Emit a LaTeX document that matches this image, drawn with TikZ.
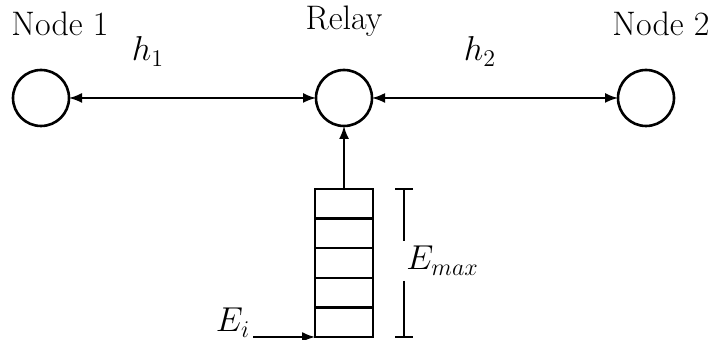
\documentclass[tikz,border=0pt]{standalone}
\usetikzlibrary{arrows.meta}
\begin{document}
\begin{tikzpicture}[x=0.5pt,y=-0.5pt,
  every node/.style={font=\fontsize{17}{20}\selectfont},
  station/.style={draw,circle,line width=1.3pt,minimum size=28pt,inner sep=0pt,outer sep=0pt},
  cell/.style={rectangle,minimum width=29pt,minimum height=14.8pt,inner sep=0pt,outer sep=0pt},
  stack/.style={draw,line width=1.2pt},
  link/.style={line width=0.9pt,{Latex[length=6.5pt,width=5pt]}-{Latex[length=6.5pt,width=5pt]}},
  feed/.style={line width=0.9pt,-{Latex[length=6.5pt,width=5pt]}},
  bar/.style={line width=1.2pt}]
\useasboundingbox (0,0) rectangle (716,340);
\node[station] (n1) at (41,98) {};
\node[station] (r) at (344,98) {};
\node[station] (n2) at (646,98) {};
\node[anchor=base] (l1) at (60,36) {Node 1};
\node[anchor=base] (lr) at (344,30) {Relay};
\node[anchor=base] (l2) at (661,36) {Node 2};
\draw[link] (n1) -- (r);
\draw[link] (r) -- (n2);
\node[anchor=base] (h1) at (148,61) {$h_1$};
\node[anchor=base] (h2) at (480,61) {$h_2$};
\node[cell] (c1) at (344,203.8) {};
\node[cell] (c2) at (344,233.4) {};
\node[cell] (c3) at (344,263) {};
\node[cell] (c4) at (344,292.6) {};
\node[cell] (c5) at (344,322.2) {};
\draw[stack] (c1.north west) rectangle (c5.south east);
\draw[stack] (c1.south west) -- (c1.south east);
\draw[stack] (c2.south west) -- (c2.south east);
\draw[stack] (c3.south west) -- (c3.south east);
\draw[stack] (c4.south west) -- (c4.south east);
\draw[feed] (c1.north) -- (r.south);
\coordinate (ein) at ([xshift=-31pt]c5.south west);
\draw[feed] (ein) -- (c5.south west);
\node[anchor=base] (ei) at (233,332) {$E_i$};
\coordinate (bt) at (404,189);
\coordinate (bb) at (404,337);
\coordinate (bgt) at (404,241);
\coordinate (bgb) at (404,281);
\draw[bar] (395,189) -- (413,189);
\draw[bar] (395,337) -- (413,337);
\draw[bar] (bt) -- (bgt);
\draw[bar] (bgb) -- (bb);
\node[anchor=base west,inner sep=0pt] (em) at (406,270) {$E_{max}$};
\end{tikzpicture}
\end{document}
